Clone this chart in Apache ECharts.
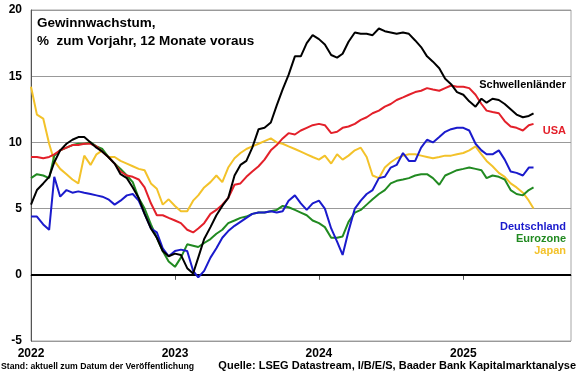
<!DOCTYPE html>
<html><head><meta charset="utf-8">
<script src="https://cdn.jsdelivr.net/npm/echarts@6/dist/echarts.min.js"></script>
<style>html,body{margin:0;padding:0;background:#fff}#c{width:580px;height:375px}</style>
</head><body><div id="c"></div>
<script>
const dates = [
'2022-01-01','2022-01-16','2022-02-01','2022-02-16','2022-03-01','2022-03-16','2022-04-01','2022-04-16','2022-05-01','2022-05-16','2022-06-01','2022-06-16',
'2022-07-01','2022-07-16','2022-08-01','2022-08-16','2022-09-01','2022-09-16','2022-10-01','2022-10-16','2022-11-01','2022-11-16','2022-12-01','2022-12-16',
'2023-01-01','2023-01-16','2023-02-01','2023-02-16','2023-03-01','2023-03-16','2023-04-01','2023-04-16','2023-05-01','2023-05-16','2023-06-01','2023-06-16',
'2023-07-01','2023-07-16','2023-08-01','2023-08-16','2023-09-01','2023-09-16','2023-10-01','2023-10-16','2023-11-01','2023-11-16','2023-12-01','2023-12-16',
'2024-01-01','2024-01-16','2024-02-01','2024-02-16','2024-03-01','2024-03-16','2024-04-01','2024-04-16','2024-05-01','2024-05-16','2024-06-01','2024-06-16',
'2024-07-01','2024-07-16','2024-08-01','2024-08-16','2024-09-01','2024-09-16','2024-10-01','2024-10-16','2024-11-01','2024-11-16','2024-12-01','2024-12-16',
'2025-01-01','2025-01-16','2025-02-01','2025-02-16','2025-03-01','2025-03-16','2025-04-01','2025-04-16','2025-05-01','2025-05-16','2025-06-01','2025-06-16',
'2025-06-28'
];
const schwellen = [5.3,6.4,6.9,7.4,8.5,9.4,9.9,10.2,10.4,10.4,10.0,9.6,9.3,8.9,8.4,7.6,7.3,6.6,5.8,4.6,3.5,2.8,1.8,1.4,1.6,1.5,0.5,0.1,1.3,2.7,3.6,4.5,5.2,5.8,7.5,8.3,
8.6,9.6,11.0,11.1,11.5,12.8,14.0,15.1,16.5,16.5,17.5,18.1,17.8,17.4,16.6,16.4,16.7,17.6,18.3,18.2,18.2,18.1,18.6,18.4,18.3,18.2,18.3,18.2,17.7,17.2,16.5,16.1,15.6,14.8,
14.4,13.8,13.6,13.1,12.7,13.3,13.0,13.3,13.2,12.9,12.5,12.1,11.9,12.0,12.2];
const usa = [8.9,8.9,8.8,8.9,9.1,9.4,9.6,9.8,9.8,9.9,9.9,9.7,9.3,8.9,8.4,7.8,7.5,7.4,7.2,6.6,5.4,4.5,4.5,4.3,4.1,3.9,3.4,3.2,3.5,3.9,4.6,4.9,5.3,5.8,6.8,6.9,
7.4,7.8,8.2,8.7,9.4,9.8,10.3,10.7,10.6,10.9,11.1,11.3,11.4,11.3,10.7,10.8,11.1,11.2,11.4,11.7,11.9,12.2,12.4,12.7,12.9,13.2,13.4,13.6,13.8,13.9,14.1,14.0,13.9,14.1,
14.3,14.2,14.2,14.1,13.6,12.9,12.4,12.3,12.2,11.6,11.2,11.1,10.9,11.3,11.4];
const deutschland = [4.4,4.4,3.8,3.4,7.4,5.9,6.4,6.2,6.3,6.2,6.1,6.0,5.9,5.7,5.3,5.6,6.0,6.1,5.6,4.6,3.5,3.2,2.0,1.4,1.8,1.9,1.8,0.3,-0.2,0.3,1.3,2.0,2.8,3.3,3.7,4.0,
4.3,4.6,4.7,4.7,4.8,4.7,4.8,5.6,6.0,5.4,4.9,5.4,5.6,5.0,3.5,2.5,1.5,3.3,5.0,5.6,6.1,6.4,7.3,7.4,8.1,8.3,9.2,8.6,8.6,9.6,10.2,10.0,10.4,10.8,
11.0,11.1,11.1,10.9,9.9,9.4,9.1,9.1,9.4,8.7,7.8,7.7,7.5,8.1,8.1];
const eurozone = [7.3,7.6,7.5,7.3,9.0,9.4,9.6,9.8,9.9,9.9,10.0,9.7,9.5,8.9,8.4,8.0,7.5,7.0,5.8,5.0,3.8,2.8,1.8,1.0,0.6,1.3,2.3,2.2,2.1,2.4,2.7,3.1,3.4,3.9,4.1,4.3,
4.4,4.6,4.7,4.7,4.8,4.9,5.2,5.1,4.9,4.7,4.5,4.1,3.9,3.6,2.8,2.8,2.9,4.0,4.7,4.9,5.3,5.7,6.1,6.4,6.9,7.1,7.2,7.3,7.5,7.6,7.6,7.3,6.8,7.5,
7.7,7.9,8.0,8.1,8.0,7.9,7.3,7.5,7.4,7.2,6.4,6.1,6.0,6.4,6.6];
const japan = [14.2,12.1,11.8,9.9,8.6,8.0,7.6,7.2,6.9,9.0,8.3,9.1,9.4,8.9,8.9,8.6,8.4,8.2,8.0,7.9,6.9,6.5,5.3,5.7,5.2,4.8,4.8,5.6,6.0,6.6,7.0,7.5,7.0,8.1,8.8,9.2,
9.5,9.7,9.9,10.1,10.3,10.0,9.9,9.7,9.5,9.3,9.1,8.9,8.7,9.0,8.4,9.1,8.7,9.0,9.4,9.6,8.9,7.5,7.3,8.1,8.5,8.8,9.0,9.1,9.1,9.0,8.9,8.8,8.9,9.0,
9.0,9.1,9.2,9.4,9.7,9.1,8.6,8.2,7.7,7.4,6.9,6.6,6.2,5.6,5.0];
const yTicks = [-5,0,5,10,15,20];

const names = ['Japan','Eurozone','Deutschland','USA','Schwellenländer'];
const colors = {'Japan':'#f3c22a','Eurozone':'#218a21','Deutschland':'#1a1acc','USA':'#e3202a','Schwellenländer':'#000000'};
const values = {'Japan':japan,'Eurozone':eurozone,'Deutschland':deutschland,'USA':usa,'Schwellenländer':schwellen};

const chart = echarts.init(document.getElementById('c'), null, {renderer:'canvas'});
const font = 'Liberation Sans, Arial, sans-serif';
const series = names.map((n, k) => ({
  name: n, type: 'line', showSymbol: false, symbol: 'none', z: 3 + k,
  lineStyle: {color: colors[n], width: 2},
  data: dates.map((d, i) => [d, values[n][i]]),
  animation: false,
  markLine: k === 0 ? {silent: true, symbol: 'none', label: {show: false},
    lineStyle: {color: '#000', width: 2, type: 'solid'}, data: [{yAxis: 0}], z: 2} : undefined
}));

chart.setOption({
  animation: false,
  backgroundColor: '#fff',
  grid: {left: 31, right: 9, top: 10, bottom: 34, show: true, borderColor: '#a6a6a6', borderWidth: 1},
  xAxis: {
    type: 'time', min: '2022-01-01', max: '2025-10-01',
    minInterval: 365 * 86400000,
    axisLine: {show: true, lineStyle: {color: '#555', width: 1}},
    axisTick: {show: true, length: 5, lineStyle: {color: '#555'}},
    axisLabel: {formatter: '{yyyy}', color: '#000', fontWeight: 'bold', fontSize: 12, fontFamily: font, margin: 7},
    splitLine: {show: false}
  },
  yAxis: {
    type: 'value', min: yTicks[0], max: yTicks[yTicks.length - 1], interval: 5,
    axisLine: {show: true, lineStyle: {color: '#555', width: 1}},
    axisTick: {show: false},
    axisLabel: {color: '#000', fontWeight: 'bold', fontSize: 12, fontFamily: font, margin: 9},
    splitLine: {show: true, lineStyle: {color: '#999', width: 1}}
  },
  series: series,
  graphic: [
    {type: 'text', left: 37, top: 14, style: {text: 'Gewinnwachstum,\n%  zum Vorjahr, 12 Monate voraus', font: 'bold 13.5px ' + font, fill: '#000', lineHeight: 18}},
    {type: 'text', right: 14, top: 79, style: {text: 'Schwellenländer', font: 'bold 11px ' + font, fill: '#000', textAlign: 'right'}},
    {type: 'text', right: 14, top: 125, style: {text: 'USA', font: 'bold 11px ' + font, fill: '#e3202a', textAlign: 'right'}},
    {type: 'text', right: 14, top: 221, style: {text: 'Deutschland', font: 'bold 11px ' + font, fill: '#1a1acc', textAlign: 'right'}},
    {type: 'text', right: 14, top: 233, style: {text: 'Eurozone', font: 'bold 11px ' + font, fill: '#218a21', textAlign: 'right'}},
    {type: 'text', right: 14, top: 245, style: {text: 'Japan', font: 'bold 11px ' + font, fill: '#f3c22a', textAlign: 'right'}},
    {type: 'text', left: 1, top: 362, style: {text: 'Stand: aktuell zum Datum der Veröffentlichung', font: 'bold 8.7px ' + font, fill: '#000'}},
    {type: 'text', right: 4, top: 360, style: {text: 'Quelle: LSEG Datastream, I/B/E/S, Baader Bank Kapitalmarktanalyse', font: 'bold 11px ' + font, fill: '#000', textAlign: 'right'}}
  ]
});
</script></body></html>
